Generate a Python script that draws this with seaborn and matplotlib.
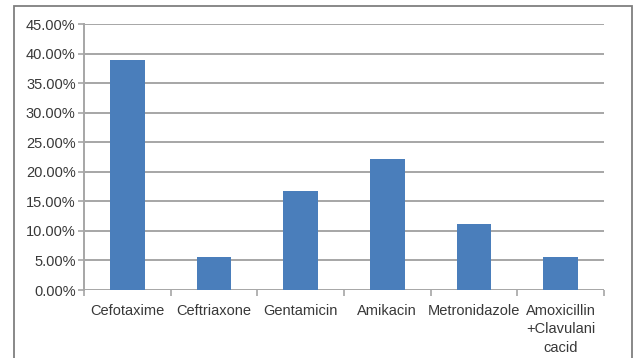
import matplotlib
matplotlib.use("Agg")
import matplotlib.pyplot as plt
from matplotlib.patches import Rectangle
from matplotlib.ticker import FixedLocator, FuncFormatter
import seaborn as sns
import pandas as pd

drugs = ["Cefotaxime", "Ceftriaxone", "Gentamicin", "Amikacin",
         "Metronidazole", "Amoxicillin\n+Clavulani\ncacid"]
percent = [38.89, 5.56, 16.67, 22.22, 11.11, 5.56]
y_ticks = [0, 5, 10, 15, 20, 25, 30, 35, 40, 45]

df = pd.DataFrame({"drug": drugs, "percent": percent})

sns.set_theme(style="white")
plt.rcParams["font.family"] = ["Liberation Sans", "DejaVu Sans"]

fig = plt.figure(figsize=(6.35, 3.58), dpi=100)
ax = fig.add_axes([84 / 635, 1 - 290 / 358, 520 / 635, 266 / 358])

grid_c = "#a6a6a6"
text_c = "#383838"

for t in y_ticks:
    ax.axhline(t, color=grid_c, lw=1.4, zorder=0)

sns.barplot(data=df, x="drug", y="percent", color="#4a7ebb", width=0.4,
            saturation=1, linewidth=0, edgecolor="none", ax=ax, zorder=2)

ax.set_xlim(-0.5, len(drugs) - 0.5)
ax.set_ylim(0, 45)
ax.yaxis.set_major_locator(FixedLocator(y_ticks))
ax.yaxis.set_major_formatter(FuncFormatter(lambda v, p: f"{v:.2f}%"))
ax.set_xlabel("")
ax.set_ylabel("")

for side in ["top", "right", "bottom"]:
    ax.spines[side].set_visible(False)
ax.spines["left"].set_color(grid_c)
ax.spines["left"].set_linewidth(1.4)

ax.tick_params(axis="y", which="major", length=4, width=1.2, color=grid_c,
               direction="out", left=True, labelsize=10.5, labelcolor=text_c, pad=2)
ax.tick_params(axis="x", which="major", length=0, labelsize=10.5,
               labelcolor=text_c, pad=10)
ax.set_xticks([i - 0.5 for i in range(len(drugs) + 1)], minor=True)
ax.tick_params(axis="x", which="minor", length=4, width=1.2, color=grid_c,
               direction="out", bottom=True)
for lbl in ax.get_xticklabels():
    lbl.set_linespacing(1.4)
    lbl.set_verticalalignment("top")

# outer chart frame
fig.patches.append(Rectangle((14 / 635, -0.01), (632 - 14) / 635, 1 - 6 / 358 + 0.01,
                             transform=fig.transFigure, fill=False,
                             edgecolor="#7f7f7f", lw=1.3, zorder=10))

fig.savefig("out.png", dpi=100)
